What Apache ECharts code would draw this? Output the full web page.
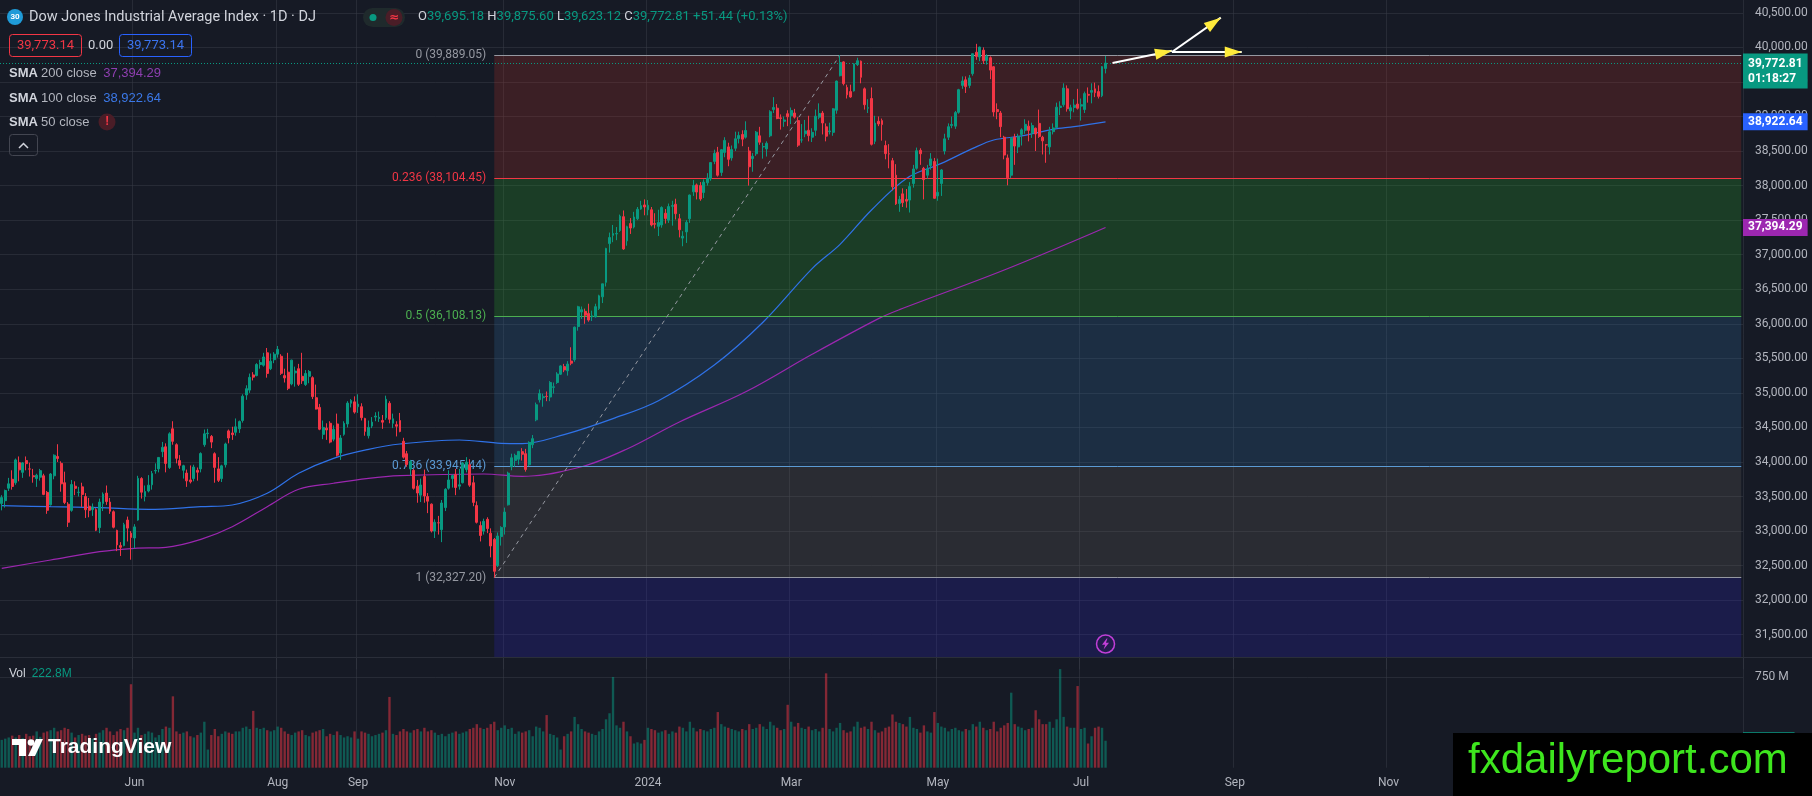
<!DOCTYPE html>
<html><head><meta charset="utf-8">
<script src="https://cdn.jsdelivr.net/npm/echarts/dist/echarts.min.js"></script>
<style>html,body{margin:0;padding:0;background:#161a25;overflow:hidden}#c{width:1812px;height:796px}</style>
</head><body><div id="c"></div><script>
// ---------------- DATA ----------------
const startDate = '2023-04-06';
const holidays = ['2023-04-07','2023-05-29','2023-06-19','2023-07-04','2023-09-04','2023-11-23','2023-12-25',
  '2024-01-01','2024-01-15','2024-02-19','2024-03-29','2024-05-27','2024-06-19','2024-07-04'];
const futureBars = 182;

const opens = [
33400,33440,33620,33750,33700,33990,33850,34020,33900,33800,33760,33780,33800,33560,33380,33800,
34080,33980,33700,33390,33300,33650,33560,33640,33500,33360,33310,33310,33050,33400,33550,33420,33280,33010,32790,32790,33160,32970,
32900,33160,33760,33500,33580,33670,33870,33900,34150,34220,33920,34480,34250,34020,33880,33840,33740,33760,33880,33900,34250,
34410,34370,34120,33900,33760,33960,34450,34420,34430,34480,34600,34970,35040,35260,35250,35410,35400,35580,35350,35480,
35560,35530,35250,35300,35130,35290,35350,35240,35120,35240,35220,34930,34790,34400,34490,34560,34330,34550,34130,34400,34550,34850,34870,
34800,34800,34630,34380,34520,34650,34630,34600,34640,34850,34560,34540,34600,34300,34120,33900,33880,33650,33520,33790,
33500,33390,33000,33120,33020,33340,33620,33760,33820,33650,33700,33890,33960,33700,33370,33080,33000,33170,32970,32880,
32500,32920,33060,33380,33930,34020,34040,34150,34120,33960,34250,34610,34900,34930,34950,34940,35080,35150,35270,35380,35320,35460,35480,
35960,36170,36180,36150,36100,36100,36220,36390,36600,37160,37280,37300,37350,37550,37200,37450,37400,37520,37660,37720,
37650,37650,37450,37410,37430,37600,37500,37700,37730,37520,37240,37330,37520,37910,38010,38000,37900,38040,38100,38350,38480,
38190,38480,38560,38400,38540,38680,38740,38700,38500,38390,38460,38720,38560,38530,38720,39100,39120,38980,38930,39040,
39010,39050,38940,38660,38750,38800,38700,38800,38990,39050,38850,38780,38770,39090,39590,39790,39420,39360,39370,39750,
39800,39400,39120,39260,38640,38930,38940,38580,38460,38360,38150,37740,37880,37800,37790,38030,38250,38510,38250,38150,38290,38350,
37850,38030,38500,38700,38870,38860,39060,39450,39530,39450,39620,39930,39860,39960,39810,39850,39720,39100,39050,38700,38400,38150,
38700,38560,38740,38800,38860,38760,38830,38900,38700,38590,38560,38780,38840,39130,39170,39400,39080,39130,39180,
39150,39100,39320,39350,39400,39360,39300,39695.18];

const highs = [
33520,33600,33770,33880,34050,34080,34000,34080,33990,33900,33830,33900,33830,33580,33840,34110,
34257,34010,33860,33420,33740,33720,33640,33700,33550,33480,33400,33330,33470,33560,33660,33480,33300,33020,32840,33120,33210,33000,
33100,33800,33780,33660,33810,33870,33980,34070,34290,34270,34430,34590,34270,34100,33960,33890,33950,33960,33920,34140,34470,
34480,34390,34140,34070,33960,34280,34470,34510,34630,34600,34980,35110,35280,35300,35430,35480,35580,35650,35570,35590,
35679,35560,35350,35580,35480,35380,35420,35580,35330,35330,35240,35120,34840,34600,34560,34590,34530,34700,34390,34590,34880,34910,34950,
34980,34850,34640,34600,34650,34720,34730,34680,34960,34880,34700,34590,34710,34350,34160,34030,33900,33740,33760,33890,
33550,33400,33170,33220,33450,33620,33880,33820,33900,33900,34000,34070,34040,33800,33430,33140,33180,33200,33040,32900,
32980,33070,33340,33860,34120,34120,34160,34200,34190,34300,34390,34860,35050,34990,35020,35170,35150,35300,35400,35420,35460,35660,35960,
36260,36250,36220,36290,36190,36290,36420,36580,37100,37320,37430,37400,37580,37640,37420,37530,37620,37690,37780,37800,
37790,37690,37600,37650,37700,37660,37740,37780,37810,37590,37340,37500,37870,38080,38030,38050,38090,38180,38340,38520,38560,
38530,38700,38620,38580,38780,38780,38800,38930,38560,38470,38790,38850,38620,38640,39090,39280,39180,39030,39000,39090,
39130,39110,38990,38890,38950,39010,38830,39100,39190,39080,38900,38910,39120,39520,39889.05,39800,39460,39460,39770,39850,
39810,39420,39250,39420,39010,39000,38970,38650,38600,38400,38310,37850,37960,37950,38050,38300,38550,38540,38270,38300,38470,38400,
38390,38240,38750,38900,39000,39080,39400,39580,39580,39600,39910,40051,40010,40000,39900,39870,39730,39190,39080,38720,38450,38700,
38750,38750,38830,38960,38940,38910,38840,39100,38720,38600,38850,38900,39200,39220,39480,39450,39170,39250,39400,
39260,39360,39420,39480,39490,39450,39730,39875.60];

const lows = [
33300,33340,33580,33600,33670,33720,33770,33880,33790,33700,33640,33730,33520,33250,33370,33750,
34000,33570,33390,33060,33280,33520,33500,33350,33190,33200,33220,33000,32970,33290,33380,33250,33040,32710,32640,32780,32850,32586,
32750,33150,33470,33430,33560,33600,33830,33850,34070,33850,33900,34250,33980,33900,33760,33640,33690,33720,33730,33850,34220,
34340,34200,33700,33710,33710,33920,34270,34320,34380,34420,34570,34900,35000,35180,35240,35350,35380,35220,35330,35430,
35510,35260,35150,35040,35110,35090,35100,35130,35100,35140,34910,34760,34460,34330,34320,34270,34300,34080,34030,34380,34500,34790,34700,
34710,34600,34380,34340,34490,34590,34580,34480,34610,34560,34490,34370,34430,34050,33930,33800,33600,33410,33420,33410,
33260,32980,32900,32950,32840,33290,33600,33630,33520,33600,33690,33850,33640,33360,33110,32850,32950,32970,32620,32327.20,
32480,32790,32950,33370,33880,33930,33960,34020,33860,33940,34200,34590,34860,34800,34880,34880,34990,35130,35260,35300,35250,35400,35450,
35900,36070,36000,36030,36040,36090,36200,36300,36540,37030,37180,37210,37330,37070,37130,37300,37380,37500,37650,37570,
37570,37410,37380,37270,37390,37450,37460,37420,37510,37250,37122,37170,37460,37850,37800,37780,37820,38000,38070,38310,38130,
38140,38410,38280,38360,38500,38610,38570,38680,38000,38200,38430,38590,38390,38420,38700,39050,38960,38810,38850,38860,
38890,38970,38560,38620,38700,38640,38630,38720,38960,38740,38640,38740,38720,39040,39580,39450,39260,39270,39360,39730,
39480,39100,39050,38580,38600,38860,38650,38380,38250,37930,37720,37620,37690,37680,37610,37970,38230,38300,37800,38100,38230,37810,
37780,37850,38450,38660,38830,38820,39040,39400,39340,39410,39590,39820,39800,39760,39750,39540,39000,38960,38700,38380,38004,38110,
38300,38470,38580,38750,38640,38690,38500,38690,38450,38330,38450,38740,38830,39020,39140,39070,38960,39060,39100,
38940,39050,39200,39190,39280,39260,39280,39623.12];

const closes = [
33485,33587,33684,33646,34030,33886,33987,33976,33897,33786,33809,33875,33531,33301,33826,34098,
34051,33684,33414,33128,33674,33619,33562,33531,33309,33301,33349,33012,33420,33535,33427,33287,33056,32800,32765,33093,33043,32908,
33061,33763,33563,33573,33665,33834,33877,34066,34212,33979,34408,34299,34053,33952,33946,33727,33714,33927,33852,34122,34408,
34418,34288,33922,33734,33944,34261,34347,34395,34509,34585,34952,35061,35225,35228,35411,35438,35520,35282,35459,35560,
35630,35283,35216,35066,35474,35315,35124,35176,35281,35308,34946,34766,34474,34501,34464,34288,34473,34099,34347,34560,34852,34891,34722,
34838,34642,34443,34501,34577,34664,34646,34576,34908,34618,34625,34518,34441,34070,33964,34007,33619,33551,33667,33508,
33433,33002,33129,33120,33407,33605,33740,33804,33631,33670,33985,33998,33665,33415,33127,32936,33141,33036,32785,32418,
32929,33053,33275,33839,34061,34096,34153,34112,33892,34283,34338,34828,34991,34945,34947,35151,35088,35273,35390,35333,35417,35430,35951,
36246,36204,36125,36054,36117,36248,36405,36578,37090,37248,37306,37306,37558,37083,37405,37386,37545,37657,37710,37690,
37715,37430,37440,37466,37683,37525,37696,37711,37593,37361,37267,37469,37863,38001,37906,37806,38050,38109,38333,38467,38150,
38519,38654,38380,38521,38677,38726,38672,38797,38273,38424,38773,38628,38564,38612,39069,39131,38970,38972,38949,38996,
39087,38990,38585,38661,38791,38723,38770,39005,39043,38906,38715,38790,39111,39512,39781,39476,39313,39282,39760,39807,
39567,39170,39127,38597,38904,38892,38883,38462,38459,37983,37735,37799,37753,37775,37986,38240,38504,38460,38086,38240,38386,37816,
37903,38226,38676,38852,38884,39056,39388,39513,39432,39558,39908,39869,40004,39807,39873,39671,39065,39070,38853,38442,38112,38686,
38572,38711,38807,38886,38799,38868,38747,38712,38647,38589,38778,38834,39135,39150,39411,39112,39127,39164,39119,
39170,39331,39308,39376,39344,39291,39721.37,39772.81];

const volumes = [ // millions
230,240,250,265,250,270,245,280,260,265,300,255,290,300,310,330,
300,310,330,320,290,250,270,280,265,270,240,280,290,310,330,300,270,300,320,310,330,690,
290,330,270,280,300,290,250,270,320,340,330,590,300,280,290,300,260,250,270,290,380,
150,270,320,260,280,300,290,280,300,300,330,340,320,470,330,320,330,310,300,310,
340,330,300,280,270,290,300,310,270,260,290,300,310,320,260,280,270,300,270,250,260,250,300,
240,300,290,280,260,270,280,290,310,585,280,270,300,320,300,290,310,320,300,330,
300,310,290,270,280,260,280,290,300,280,290,300,320,330,360,330,320,330,360,380,
310,330,350,320,330,280,300,290,300,310,260,340,330,300,435,280,270,250,150,260,280,300,420,
360,320,300,290,280,270,300,320,400,450,750,350,330,380,300,260,200,210,200,230,
330,320,310,290,300,310,280,300,290,340,330,300,380,330,300,320,310,300,320,330,460,
360,340,330,320,310,300,320,310,360,320,330,360,340,320,380,350,330,310,320,520,
380,340,370,330,320,340,310,320,300,330,780,320,300,330,370,310,290,300,340,380,
330,340,320,380,310,290,300,330,340,440,380,370,360,340,420,330,320,290,350,300,290,460,
370,340,330,300,320,330,310,300,320,310,360,340,380,330,310,320,380,300,330,350,370,620,
360,340,330,310,320,330,475,400,360,360,380,330,400,815,420,340,330,330,675,
320,330,200,260,330,340,330,222.8];

// moving averages: [bar index, value]
const sma100 = [[0,33368],[14,33353],[28,33339],[42,33315],[57,33353],[66,33378],[76,33547],[85,33836],[95,34053],
  [105,34183],[114,34260],[131,34318],[143,34270],[149,34266],[161,34396],[175,34628],[188,34887],[204,35404],
  [218,36026],[232,36799],[240,37150],[249,37646],[259,38104],[269,38321],[278,38538],[284,38660],[292,38718],
  [301,38814],[307,38853],[316,38922.64]];
const sma200 = [[0,32461],[14,32582],[28,32702],[38,32751],[47,32765],[57,32881],[66,33064],[76,33353],[85,33605],
  [95,33692],[105,33764],[114,33802],[138,33826],[149,33792],[166,33931],[179,34188],[194,34579],[213,35016],
  [232,35559],[251,36075],[257,36205],[287,36779],[316,37394.29]];
const smaLast = {sma200: 37394.29, sma100: 38922.64};

// Fibonacci retracement
const fibLevels = ['0','0.236','0.5','0.786','1'];
const fibPrices = [39889.05, 38104.45, 36108.13, 33945.44, 32327.20];
const fibFromDate = '2023-10-27', fibToDate = '2024-03-21';
const paneFloorPrice = 31178;

// tick labels of the time axis
const tickDates  = ['2023-06-01','2023-08-01','2023-09-01','2023-11-01','2024-01-02','2024-03-01','2024-05-01','2024-07-01','2024-09-02','2024-11-01'];
const tickLabels = ['Jun','Aug','Sep','Nov','2024','Mar','May','Jul','Sep','Nov'];

// drawn arrows: [x0 bar, y0 price, x1 bar, y1 price]
const arrows = [[318.1,39774,335,39950],[335,39933,354.5,39933],[335,39933,349,40430]];
const eventMarker = [316, 31366];

const quote = {bid:'39,773.14', spread:'0.00', ask:'39,773.14', countdown:'01:18:27', vol:'222.8M'};

// ---------------- BUILD ----------------
function iso(d){return d.toISOString().slice(0,10);}
function buildDays(start, count, skip){
  const out=[]; const d=new Date(start+'T00:00:00Z');
  while(out.length<count){const wd=d.getUTCDay(), s=iso(d);
    if(wd!==0&&wd!==6&&!skip.includes(s)) out.push(s);
    d.setUTCDate(d.getUTCDate()+1);}
  return out;
}
const N = closes.length;
const tradeDates = buildDays(startDate, N, holidays);
const nd = new Date(tradeDates[N-1]+'T00:00:00Z'); nd.setUTCDate(nd.getUTCDate()+1);
const categories = tradeDates.concat(buildDays(iso(nd), futureBars, []));
const fibStart = categories.indexOf(fibFromDate), fibHigh = categories.indexOf(fibToDate), lastIdx = categories.length-1;

function fmt(v){const s=Math.abs(v).toFixed(2);const p=s.split('.');return (v<0?'-':'')+p[0].replace(/\B(?=(\d{3})+(?!\d))/g,',')+'.'+p[1];}

const UP='#089981', DOWN='#f23645', TXT='#d1d4dc', AX='#b2b5be', GRID='rgba(54,58,70,0.55)';
const FONT='Roboto, "Liberation Sans", sans-serif';
const candleData = opens.map((o,i)=>[o, closes[i], lows[i], highs[i]]);
const volData = volumes.map((v,i)=>({value:v, itemStyle:{color: closes[i]>=opens[i]?'rgba(8,153,129,0.5)':'rgba(242,54,69,0.5)'}}));
const lastClose = closes[N-1], prevClose = closes[N-2];
const chg = lastClose-prevClose, chgPct = chg/prevClose*100;

const fibLineColors = ['#9598a1','#f23645','#4caf50','#5b9bd5','#9598a1'];
const fibZoneColors = ['rgba(170,46,41,0.25)','rgba(42,166,45,0.25)','rgba(46,106,161,0.25)','rgba(102,98,97,0.25)','rgba(42,34,189,0.25)'];
const zoneEdges = fibPrices.concat([paneFloorPrice]);
const isTick = (i,v)=>tickDates.includes(v);

const HIDDEN_LINE = {color:'rgba(0,0,0,0)', width:0};
const tagLabel = (bg)=>({show:true, position:'end', distance:0, color:'#fff', backgroundColor:bg, padding:[3,5,2,5], fontSize:12, fontWeight:'bold', fontFamily:FONT});

const option = {
  backgroundColor:'#161a25', animation:false,
  textStyle:{fontFamily:FONT},
  grid:[
    {left:0, right:69, top:-1, height:670.3, containLabel:false, outerBoundsMode:'none'},
    {left:0, right:69, top:657, height:110.7, containLabel:false, outerBoundsMode:'none'}
  ],
  xAxis:[
    {type:'category', gridIndex:0, data:categories, boundaryGap:true, axisLine:{show:false}, axisTick:{show:false}, axisLabel:{show:false},
     splitLine:{show:true, interval:isTick, lineStyle:{color:GRID, width:1}}},
    {type:'category', gridIndex:1, data:categories, boundaryGap:true, axisLine:{show:false}, axisTick:{show:false},
     axisLabel:{show:true, interval:isTick, color:AX, fontSize:12, margin:9, formatter:(v)=>{const k=tickDates.indexOf(v);return k>=0?tickLabels[k]:'';}},
     splitLine:{show:true, interval:isTick, lineStyle:{color:GRID, width:1}}}
  ],
  yAxis:[
    {type:'value', gridIndex:0, position:'right', min:31000, max:40700, interval:500, scale:true,
     axisLine:{show:false}, axisTick:{show:false},
     axisLabel:{color:AX, fontSize:12, margin:12, showMinLabel:false, showMaxLabel:false, formatter:(v)=>fmt(v)},
     splitLine:{show:true, showMinLine:false, showMaxLine:false, lineStyle:{color:GRID, width:1}}},
    {type:'value', gridIndex:1, position:'right', min:0, max:915, interval:750,
     axisLine:{show:false}, axisTick:{show:false},
     axisLabel:{color:AX, fontSize:12, margin:12, showMinLabel:false, showMaxLabel:false, formatter:(v)=>v+' M'},
     splitLine:{show:true, showMinLine:false, showMaxLine:false, lineStyle:{color:GRID, width:1}}}
  ],
  series:[
    { // Fibonacci retracement drawing
      type:'line', xAxisIndex:0, yAxisIndex:0, data:[], z:1, silent:true,
      markArea:{silent:true, data: fibZoneColors.map((c,k)=>[
        {coord:[fibStart, zoneEdges[k]], itemStyle:{color:c}},
        {coord:[lastIdx, zoneEdges[k+1]]}])},
      markLine:{silent:true, symbol:['none','none'], animation:false, data:
        fibPrices.map((p,k)=>[
          {coord:[fibStart,p], lineStyle:{color:fibLineColors[k], width:1, type:'solid'},
           label:{show:true, position:'start', distance:8, color:fibLineColors[k], fontSize:12, fontFamily:FONT,
                  formatter: fibLevels[k]+' ('+fmt(p)+')'}},
          {coord:[lastIdx,p]}
        ]).concat([[
          {coord:[fibStart, fibPrices[4]], lineStyle:{color:'#9598a1', width:1, type:[4,4]}, label:{show:false}},
          {coord:[fibHigh, fibPrices[0]]}
        ]])},
      markPoint:{silent:true, data:[
        {coord:eventMarker, symbol:'circle', symbolSize:18, itemStyle:{color:'#221b4d', borderColor:'#c13fd8', borderWidth:1.5}, label:{show:false}},
        {coord:eventMarker, symbol:'path://M7,0 L1,9 L5,9 L3,16 L10,6 L6,6 L8,0 Z', symbolSize:[7,11], itemStyle:{color:'#c13fd8'}, label:{show:false}}
      ]}
    },
    {name:'SMA 200', type:'line', xAxisIndex:0, yAxisIndex:0, data:sma200, smooth:0.35, showSymbol:false, z:3, silent:true,
     lineStyle:{color:'#9c27b0', width:1.2}},
    {name:'SMA 100', type:'line', xAxisIndex:0, yAxisIndex:0, data:sma100, smooth:0.35, showSymbol:false, z:3, silent:true,
     lineStyle:{color:'#2f72e8', width:1.2}},
    {name:'DJI', type:'candlestick', xAxisIndex:0, yAxisIndex:0, data:candleData, z:5, barWidth:'68%', silent:true,
     itemStyle:{color:UP, color0:DOWN, borderColor:UP, borderColor0:DOWN, borderWidth:1},
     markLine:{silent:true, symbol:['none','none'], data:[
       {yAxis:lastClose, lineStyle:{color:UP, type:[1,2], width:1},
        label:Object.assign(tagLabel(UP),{formatter:fmt(lastClose)+'\n'+quote.countdown, lineHeight:15, offset:[0,8]})},
       {yAxis:smaLast.sma100, lineStyle:HIDDEN_LINE, label:Object.assign(tagLabel('#2962ff'),{formatter:fmt(smaLast.sma100)})},
       {yAxis:smaLast.sma200, lineStyle:HIDDEN_LINE, label:Object.assign(tagLabel('#9c27b0'),{formatter:fmt(smaLast.sma200)})}
     ]}},
    {name:'Vol', type:'bar', xAxisIndex:1, yAxisIndex:1, data:volData, barWidth:'68%', z:2, silent:true,
     markLine:{silent:true, symbol:['none','none'], data:[{yAxis:volumes[N-1], lineStyle:HIDDEN_LINE, label:Object.assign(tagLabel(UP),{formatter:quote.vol})}]}},
    {type:'custom', xAxisIndex:0, yAxisIndex:0, z:10, silent:true, clip:false, data:arrows, encode:{x:[0,2], y:[1,3]},
     renderItem:(params, api)=>{
       const p0=api.coord([api.value(0),api.value(1)]), p1=api.coord([api.value(2),api.value(3)]);
       const dx=p1[0]-p0[0], dy=p1[1]-p0[1], L=Math.hypot(dx,dy), ux=dx/L, uy=dy/L, hl=17, hw=5.5;
       const bx=p1[0]-ux*hl, by=p1[1]-uy*hl;
       return {type:'group', children:[
         {type:'line', shape:{x1:p0[0],y1:p0[1],x2:p1[0],y2:p1[1]}, style:{stroke:'#ffffff', lineWidth:2}},
         {type:'polygon', shape:{points:[[p1[0],p1[1]],[bx-uy*hw,by+ux*hw],[bx+uy*hw,by-ux*hw]]}, style:{fill:'#ffeb3b'}}
       ]};
     }}
  ],
  graphic:[
    {type:'line', shape:{x1:0,y1:657.5,x2:1812,y2:657.5}, style:{stroke:'#2a2e39', lineWidth:1}, z:20},
    // header
    {type:'circle', shape:{cx:15, cy:17, r:8}, style:{fill:'#1f9bd8'}, z:20},
    {type:'text', x:15, y:17, style:{text:'30', fill:'#fff', fontSize:8, fontWeight:'bold', align:'center', verticalAlign:'middle', fontFamily:FONT}, z:21},
    {type:'text', x:29, y:17, style:{text:'Dow Jones Industrial Average Index · 1D · DJ', fill:TXT, fontSize:14.5, verticalAlign:'middle', fontFamily:FONT}, z:20},
    {type:'rect', shape:{x:363, y:8, width:42, height:19, r:9.5}, style:{fill:'#1f2a2c'}, z:20},
    {type:'circle', shape:{cx:373, cy:17.5, r:3.5}, style:{fill:UP}, z:21},
    {type:'circle', shape:{cx:394, cy:17.5, r:8.5}, style:{fill:'#4a1d27'}, z:21},
    {type:'text', x:394, y:17.5, style:{text:'≈', fill:DOWN, fontSize:12, fontWeight:'bold', align:'center', verticalAlign:'middle', fontFamily:'DejaVu Sans'}, z:22},
    {type:'text', x:418, y:17, z:20, style:{verticalAlign:'middle', fontSize:13, fontFamily:FONT,
      text:'{l|O}{v|'+fmt(opens[N-1])+'} {l|H}{v|'+fmt(highs[N-1])+'} {l|L}{v|'+fmt(lows[N-1])+'} {l|C}{v|'+fmt(lastClose)+'} {v|'+(chg>=0?'+':'')+chg.toFixed(2)+' ('+(chg>=0?'+':'')+chgPct.toFixed(2)+'%)}',
      rich:{l:{fill:TXT, fontSize:13, fontFamily:FONT}, v:{fill:UP, fontSize:13, fontFamily:FONT}}}},
    {type:'rect', shape:{x:9.5, y:34.5, width:72, height:22, r:3}, style:{fill:'none', stroke:DOWN, lineWidth:1}, z:20},
    {type:'text', x:45.5, y:45.5, style:{text:quote.bid, fill:DOWN, fontSize:13, align:'center', verticalAlign:'middle', fontFamily:FONT}, z:20},
    {type:'text', x:88, y:45.5, style:{text:quote.spread, fill:TXT, fontSize:13, verticalAlign:'middle', fontFamily:FONT}, z:20},
    {type:'rect', shape:{x:119.5, y:34.5, width:72, height:22, r:3}, style:{fill:'none', stroke:'#2962ff', lineWidth:1}, z:20},
    {type:'text', x:155.5, y:45.5, style:{text:quote.ask, fill:'#3b74f0', fontSize:13, align:'center', verticalAlign:'middle', fontFamily:FONT}, z:20},
    {type:'text', x:9, y:73, z:20, style:{verticalAlign:'middle', fontFamily:FONT, fontSize:13,
      text:'{b|SMA} {g|200 close}  {p|'+fmt(smaLast.sma200)+'}', rich:{b:{fill:TXT,fontSize:13,fontWeight:'bold'}, g:{fill:AX,fontSize:13}, p:{fill:'#8e3fb0',fontSize:13}}}},
    {type:'text', x:9, y:98, z:20, style:{verticalAlign:'middle', fontFamily:FONT, fontSize:13,
      text:'{b|SMA} {g|100 close}  {p|'+fmt(smaLast.sma100)+'}', rich:{b:{fill:TXT,fontSize:13,fontWeight:'bold'}, g:{fill:AX,fontSize:13}, p:{fill:'#3b78e7',fontSize:13}}}},
    {type:'text', x:9, y:122, z:20, style:{verticalAlign:'middle', fontFamily:FONT, fontSize:13,
      text:'{b|SMA} {g|50 close}', rich:{b:{fill:TXT,fontSize:13,fontWeight:'bold'}, g:{fill:AX,fontSize:13}}}},
    {type:'circle', shape:{cx:107, cy:122, r:8.5}, style:{fill:'#4a1d27'}, z:20},
    {type:'text', x:107, y:122, style:{text:'!', fill:DOWN, fontSize:12, fontWeight:'bold', align:'center', verticalAlign:'middle', fontFamily:FONT}, z:21},
    {type:'rect', shape:{x:9.5, y:134.5, width:28, height:21, r:3}, style:{fill:'none', stroke:'#434651', lineWidth:1}, z:20},
    {type:'polyline', shape:{points:[[19,148],[23.5,143.5],[28,148]]}, style:{stroke:TXT, lineWidth:1.5, fill:'none'}, z:20},
    // volume legend
    {type:'text', x:9, y:674, z:20, style:{verticalAlign:'middle', fontFamily:FONT, fontSize:12,
      text:'{l|Vol}  {v|'+quote.vol+'}', rich:{l:{fill:TXT,fontSize:12}, v:{fill:UP,fontSize:12}}}},
    // TradingView logo
    {type:'rect', shape:{x:12, y:739, width:14, height:6}, style:{fill:'#ffffff'}, z:20},
    {type:'rect', shape:{x:19, y:739, width:7, height:17}, style:{fill:'#ffffff'}, z:20},
    {type:'circle', shape:{cx:31, cy:742.5, r:3.3}, style:{fill:'#ffffff'}, z:20},
    {type:'polygon', shape:{points:[[36,739],[43,739],[35,756],[28,756]]}, style:{fill:'#ffffff'}, z:20},
    {type:'text', x:48, y:747, style:{text:'TradingView', fill:'#ffffff', fontSize:21, fontWeight:'bold', verticalAlign:'middle', fontFamily:'"Liberation Sans", Roboto, sans-serif'}, z:20},
    // watermark
    {type:'rect', shape:{x:1453, y:733, width:359, height:63}, style:{fill:'#000000'}, z:50},
    {type:'text', x:1468, y:761, style:{text:'fxdailyreport.com', fill:'#3ee61e', fontSize:42, verticalAlign:'middle', fontFamily:'"Liberation Sans", Arial, sans-serif'}, z:51}
  ]
};
const chart = echarts.init(document.getElementById('c'), null, {renderer:'canvas'});
chart.setOption(option);
</script></body></html>
